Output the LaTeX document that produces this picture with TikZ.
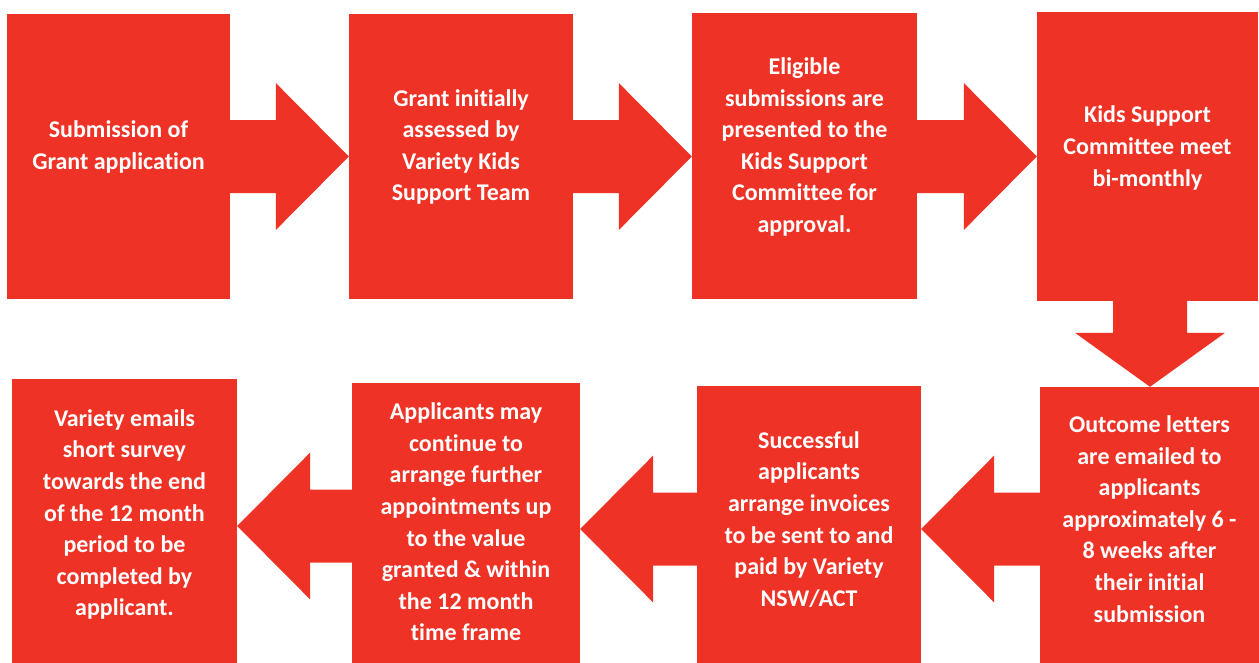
\documentclass[tikz,border=0pt]{standalone}
\usepackage{fontspec}
\setmainfont{Carlito}[Ligatures=NoCommon]
\usetikzlibrary{calc}
\definecolor{vred}{RGB}{238,50,38}
\tikzset{
  box/.style={fill=vred, draw=none, rectangle, inner sep=0pt},
  txt/.style={text=white, align=center, font=\bfseries\fontsize{24}{31.6}\selectfont, inner sep=0pt},
  arr/.style={fill=vred, draw=none},
}
% right-pointing block arrow from node #1 to node #2 at height #3
\newcommand{\rarrow}[3]{%
  \coordinate (s) at (#1.east |- 0,#3);
  \coordinate (e) at (#2.west |- 0,#3);
  \fill[arr] ($(s)+(-1,-36.5)$) -- ($(e)+(-73,-36.5)$) -- ($(e)+(-73,-73.5)$) -- (e)
    -- ($(e)+(-73,73.5)$) -- ($(e)+(-73,36.5)$) -- ($(s)+(-1,36.5)$) -- cycle;}
% left-pointing block arrow from node #1 to node #2 at height #3
\newcommand{\larrow}[3]{%
  \coordinate (s) at (#1.west |- 0,#3);
  \coordinate (e) at (#2.east |- 0,#3);
  \fill[arr] ($(s)+(1,-36.5)$) -- ($(e)+(73,-36.5)$) -- ($(e)+(73,-73.5)$) -- (e)
    -- ($(e)+(73,73.5)$) -- ($(e)+(73,36.5)$) -- ($(s)+(1,36.5)$) -- cycle;}
\begin{document}
\begin{tikzpicture}[x=1pt,y=-1pt]
\useasboundingbox (0,0) rectangle (1259,662);
% top row boxes
\node[box, minimum width=223pt, minimum height=285pt] (b1) at (118.5,156.5) {};
\node[box, minimum width=224pt, minimum height=285pt] (b2) at (461,156.5) {};
\node[box, minimum width=225pt, minimum height=286pt] (b3) at (804.5,156) {};
\node[box, minimum width=221pt, minimum height=289pt] (b4) at (1147.5,156.5) {};
% bottom row boxes
\node[box, minimum width=219pt, minimum height=276pt] (b5) at (1149.5,525) {};
\node[box, minimum width=224pt, minimum height=277pt] (b6) at (809,524.5) {};
\node[box, minimum width=228pt, minimum height=280pt] (b7) at (466,523) {};
\node[box, minimum width=225pt, minimum height=284pt] (b8) at (124.5,521) {};
% texts
\node[txt] (t1) at (118.5,147) {Submission of\\Grant application};
\node[txt] (t2) at (461,147) {Grant initially\\assessed by\\Variety Kids\\Support Team};
\node[txt] (t3) at (804.5,147) {Eligible\\submissions are\\presented to the\\Kids Support\\Committee for\\approval.};
\node[txt] (t4) at (1147.5,148) {Kids Support\\Committee meet\\bi-monthly};
\node[txt] (t5) at (1149.5,519) {Outcome letters\\are emailed to\\applicants\\approximately 6 -\\8 weeks after\\their initial\\submission};
\node[txt] (t6) at (809,519.5) {Successful\\applicants\\arrange invoices\\to be sent to and\\paid by Variety\\NSW/ACT};
\node[txt] (t7) at (466,522) {Applicants may\\continue to\\arrange further\\appointments up\\to the value\\granted \& within\\the 12 month\\time frame};
\node[txt] (t8) at (124.5,514.5) {Variety emails\\short survey\\towards the end\\of the 12 month\\period to be\\completed by\\applicant.};
% arrows
\rarrow{b1}{b2}{156.5}
\rarrow{b2}{b3}{156.5}
\rarrow{b3}{b4}{156.5}
\coordinate (ds) at (b4.south -| 1150,0);
\coordinate (de) at (b5.north -| 1150,0);
\fill[arr] ($(ds)+(-37,-1)$) -- ($(de)+(-37,-54)$) -- ($(de)+(-75,-54)$) -- (de)
  -- ($(de)+(75,-54)$) -- ($(de)+(37,-54)$) -- ($(ds)+(37,-1)$) -- cycle;
\larrow{b5}{b6}{529}
\larrow{b6}{b7}{529}
\larrow{b7}{b8}{526}
\end{tikzpicture}
\end{document}
